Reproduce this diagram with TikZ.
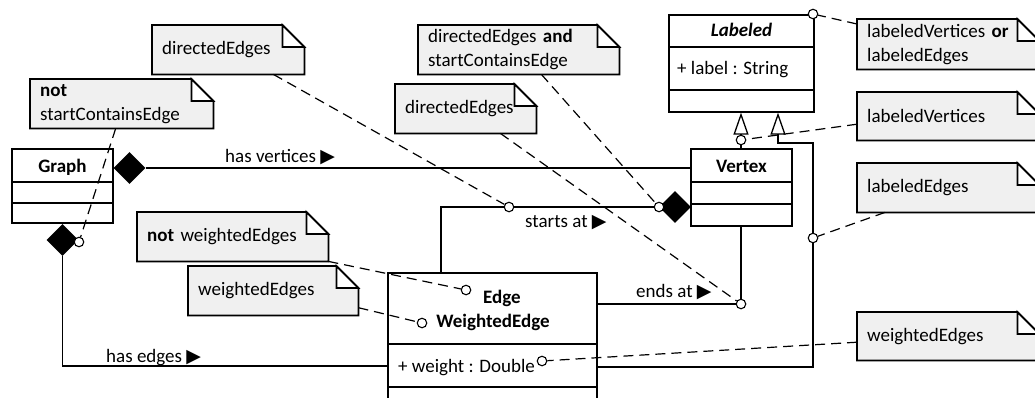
\documentclass[tikz,border=0pt]{standalone}
\usepackage{fontspec}
\setmainfont{Carlito}
\newfontfamily\symfont{DejaVu Sans}
\usetikzlibrary{shapes.geometric,arrows.meta}
\pgfdeclarelayer{bg}
\pgfsetlayers{bg,main}
\definecolor{notegray}{HTML}{F0F0F0}
\newcommand\fs{\fontsize{19}{24}\selectfont}
\newcommand\tri{{\fontsize{19}{19}\symfont ▶}}
\newcommand\umlnote[6]{%
  \pgfmathsetmacro\notetw{#4-20}%
  \node[notetext, text width=\notetw pt, minimum width=#4pt, minimum height=#5pt, anchor=north west] (#1) at (#2,#3) {#6};
  \begin{pgfonlayer}{bg}
    \draw[notebody] (#1.north west) -- ([xshift=-22pt]#1.north east) -- ([yshift=-22pt]#1.north east) -- (#1.south east) -- (#1.south west) -- cycle;
    \draw[notefold] ([xshift=-22pt]#1.north east) -- ([xshift=-22pt,yshift=-22pt]#1.north east) -- ([yshift=-22pt]#1.north east) -- cycle;
  \end{pgfonlayer}}
\begin{document}
\begin{tikzpicture}[x=1pt,y=-1pt,
  cls/.style={draw, line width=1.3pt, fill=white, inner sep=0pt},
  cline/.style={line width=1.3pt},
  conn/.style={line width=1.3pt},
  notelink/.style={line width=1.2pt, dash pattern=on 10pt off 6pt},
  hole/.style={circle, draw, fill=white, line width=1.1pt, minimum size=9.5pt, inner sep=0pt},
  comp/.style={diamond, fill=black, minimum width=32pt, minimum height=32pt, inner sep=0pt},
  txt/.style={font=\fs, inner sep=0pt},
  bold/.style={font=\fs\bfseries, inner sep=0pt},
  notetext/.style={font=\fs, inner xsep=10pt, inner ysep=0pt, align=left},
  notebody/.style={draw, fill=notegray, line width=1.7pt},
  notefold/.style={draw, fill=white, line width=1.7pt},
  gentip/.style={-{Triangle[open, length=22pt, width=15pt]}}
]
\useasboundingbox (0,0) rectangle (1035,397);
\clip (0,0) rectangle (1035,397);

% ---------- classes ----------
\node[cls, minimum width=101pt, minimum height=74pt] (graph) at (62.5,186) {};
\draw[cline] (12,182) -- (113,182) (12,203) -- (113,203);
\node[bold, anchor=base] (graphname) at (62.5,172) {Graph};

\node[cls, minimum width=101pt, minimum height=77pt] (vertex) at (741.5,187.5) {};
\draw[cline] (691,182) -- (792,182) (691,204) -- (792,204);
\node[bold, anchor=base] (vertexname) at (741.5,172) {Vertex};

\node[cls, minimum width=145pt, minimum height=97pt] (labeled) at (741.5,63.5) {};
\draw[cline] (669,47) -- (814,47) (669,90) -- (814,90);
\node[font=\fs\bfseries\itshape, inner sep=0pt, anchor=base] (labeledname) at (741.5,36) {Labeled};
\node[txt, anchor=base west] (labelattr) at (677,74) {+ label : String};

\node[cls, minimum width=209pt, minimum height=147pt] (edge) at (492.5,346.5) {};
\draw[cline] (388,344) -- (597,344) (388,387) -- (597,387);
\node[bold, anchor=base] (edgename) at (502,303) {Edge};
\node[bold, anchor=base] (wedgename) at (493,327) {WeightedEdge};
\node[txt, anchor=base west] (weightattr) at (398,372) {+ weight : Double};

% ---------- associations ----------
\node[comp] (dg1) at (129.5,168) {};
\draw[conn] (dg1.east) -- (vertex.west |- dg1.east);
\node[txt, anchor=base west] (lhv) at (225,162) {has vertices \tri};

\node[comp] (dg2) at (62.5,240) {};
\coordinate (he) at (62.5,366);
\draw[conn] (dg2.south) -- (he) -- (edge.west |- he);
\node[txt, anchor=base west] (lhe) at (106,362) {has edges \tri};

\node[comp] (dv) at (675,207) {};
\coordinate (sa) at (441,207);
\draw[conn] (edge.north -| sa) -- (sa) -- (dv.west);
\node[txt, anchor=base west] (lsa) at (525,227) {starts at \tri};

\node[hole] (hEnd) at (741,304) {};
\draw[conn] (edge.east |- hEnd) -- (hEnd) -- (vertex.south -| hEnd);
\node[txt, anchor=base west] (lea) at (636,297) {ends at \tri};

% ---------- generalizations ----------
\node[hole] (hLV) at (741,140) {};
\draw[conn] (vertex.north -| hLV) -- (hLV);
\draw[conn, gentip] (hLV) -- (hLV |- labeled.south);

\coordinate (e1) at (813,367);
\coordinate (e2) at (813,143);
\coordinate (e3) at (778,143);
\draw[conn, gentip] (edge.east |- e1) -- (e1) -- (e2) -- (e3) -- (e3 |- labeled.south);

% ---------- notes ----------
\umlnote{n1}{30}{79}{183}{49}{\textbf{not}\\startContainsEdge}
\umlnote{n2}{152}{25}{152}{49}{directedEdges}
\umlnote{n3}{418}{25}{201}{49}{directedEdges \textbf{and}\\startContainsEdge}
\umlnote{n4}{395}{84}{141}{49}{directedEdges}
\umlnote{n5}{857}{19}{182}{50}{labeledVertices \textbf{or}\\labeledEdges}
\umlnote{n6}{857}{92}{182}{48}{labeledVertices}
\umlnote{n7}{857}{163}{182}{49}{labeledEdges}
\umlnote{n8}{857}{312}{182}{48}{weightedEdges}
\umlnote{n9}{137}{212}{191}{49}{\textbf{not} weightedEdges}
\umlnote{n10}{188}{266}{170}{49}{weightedEdges}

% ---------- holes ----------
\node[hole] (hG) at (79,242) {};
\node[hole] (hS) at (509,207) {};
\node[hole] (hSV) at (659,207) {};
\node[hole] (hLab) at (813,14) {};
\node[hole] (hLE) at (813,238) {};
\node[hole] (hW) at (542,361) {};
\node[hole] (hE) at (466,290) {};
\node[hole] (hWE) at (422,323) {};

% ---------- note links ----------
\draw[notelink] ([xshift=-6pt]n1.south) -- (hG);
\draw[notelink] ([xshift=-31pt]n2.south east) -- (hS);
\draw[notelink] ([xshift=-78pt]n3.south east) -- (hSV);
\draw[notelink] ([xshift=-36pt]n4.south east) -- (hEnd);
\draw[notelink] ([yshift=-5pt]n5.north west) -- (hLab);
\draw[notelink] ([yshift=-8pt]n6.west) -- (hLV);
\draw[notelink] ([xshift=28pt]n7.south west) -- (hLE);
\draw[notelink] ([yshift=-6pt]n8.west) -- (hW);
\draw[notelink] (n9.south east) -- (hE);
\draw[notelink] ([yshift=-17pt]n10.east) -- (hWE);
\end{tikzpicture}
\end{document}
